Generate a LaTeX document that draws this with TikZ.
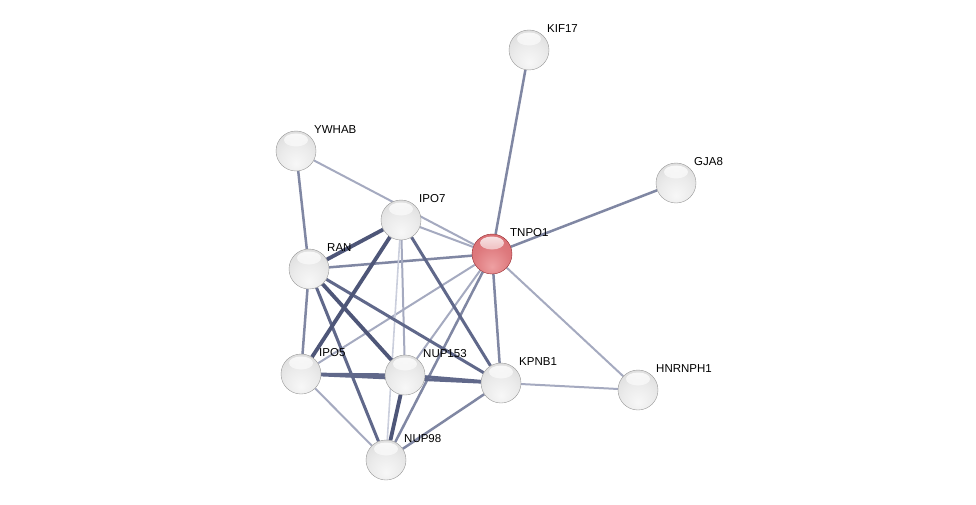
\documentclass[tikz,border=0pt]{standalone}
\usepackage{fontspec}
\setmainfont{Liberation Sans}
\usetikzlibrary{backgrounds,fadings}
\definecolor{ea}{RGB}{202,206,220}
\definecolor{eb}{RGB}{165,170,192}
\definecolor{ec}{RGB}{128,135,163}
\definecolor{ed}{RGB}{96,104,138}
\definecolor{ee}{RGB}{78,86,120}
\definecolor{rin}{RGB}{238,160,162}
\definecolor{rmid}{RGB}{215,105,110}
\definecolor{rout}{RGB}{150,45,50}
\pgfdeclareradialshading{graysphere}{\pgfpoint{0bp}{-16bp}}{%
  color(0bp)=(gray!6); color(20bp)=(gray!16); color(40bp)=(gray!30); color(56bp)=(gray!48); color(66bp)=(gray!62); color(76bp)=(gray!75)}
\pgfdeclareradialshading{redsphere}{\pgfpoint{0bp}{-16bp}}{%
  color(0bp)=(rin); color(22bp)=(rmid!70!rin); color(42bp)=(rmid); color(58bp)=(rmid!70!rout); color(76bp)=(rout)}
\tikzset{
  ball/.style={circle, minimum size=40pt, inner sep=0pt, shading=graysphere, draw=gray!80, line width=0.4pt,
    path picture={\fill[white, opacity=0.85, path fading=south] ([yshift=11pt]path picture bounding box.center) ellipse (12pt and 6.5pt);}},
  redball/.style={ball, shading=redsphere, draw=rout},
  lab/.style={anchor=base west, font=\fontsize{11.5}{13}\selectfont, text=black, inner sep=0pt},
  ea/.style={draw=ea, line width=1.6pt},
  eb/.style={draw=eb, line width=2pt},
  ec/.style={draw=ec, line width=2.5pt},
  ed/.style={draw=ed, line width=3pt},
  ee/.style={draw=ee, line width=3.8pt},
}
\begin{document}
\begin{tikzpicture}[x=1pt,y=-1pt]
\useasboundingbox (0,0) rectangle (976,505);
\node[ball] (kif17) at (529,50) {};
\node[ball] (ywhab) at (296,151) {};
\node[ball] (gja8) at (676,183) {};
\node[ball] (ipo7) at (401,220) {};
\node[redball] (tnpo1) at (492,254) {};
\node[ball] (ran) at (309,269) {};
\node[ball] (ipo5) at (301,374) {};
\node[ball] (nup153) at (405,375) {};
\node[ball] (kpnb1) at (501,383) {};
\node[ball] (hnrnph1) at (638,390) {};
\node[ball] (nup98) at (386,460) {};
\foreach \n/\t in {kif17/KIF17, ywhab/YWHAB, gja8/GJA8, ipo7/IPO7, tnpo1/TNPO1, ran/RAN, ipo5/IPO5, nup153/NUP153, kpnb1/KPNB1, hnrnph1/HNRNPH1, nup98/NUP98}
  \node[lab] (\n-l) at ([xshift=18pt,yshift=17.5pt]\n.center) {\t};
\begin{scope}[on background layer]
\fill[white] (0,0) rectangle (976,505);
\draw[ec] (kif17) -- (tnpo1);
\draw[ec] (gja8) -- (tnpo1);
\draw[eb] (ywhab) -- (tnpo1);
\draw[ec] (ywhab) -- (ran);
\draw[eb] (ipo7) -- (tnpo1);
\draw[ec] (ran) -- (tnpo1);
\draw[eb] (tnpo1) -- (ipo5);
\draw[eb] (tnpo1) -- (nup153);
\draw[ec] (tnpo1) -- (kpnb1);
\draw[ec] (tnpo1) -- (nup98);
\draw[eb] (tnpo1) -- (hnrnph1);
\draw[ea] (ipo7) -- (nup98);
\draw[eb] (ipo7) -- (nup153);
\draw[eb] (ipo5) -- (nup98);
\draw[eb] (kpnb1) -- (hnrnph1);
\draw[ec] (ran) -- (ipo5);
\draw[ec] (kpnb1) -- (nup98);
\draw[ed] (ran) -- (nup98);
\draw[ed] (ipo7) -- (kpnb1);
\draw[ed] (ran) -- (kpnb1);
\draw[ed] (ipo5) -- (kpnb1);
\draw[ed] (ipo5) -- (nup153);
\draw[ed] (nup153) -- (kpnb1);
\draw[ee] (ipo7) -- (ran);
\draw[ee] (ipo7) -- (ipo5);
\draw[ee] (ran) -- (nup153);
\draw[ee] (nup153) -- (nup98);
\end{scope}
\end{tikzpicture}
\end{document}
